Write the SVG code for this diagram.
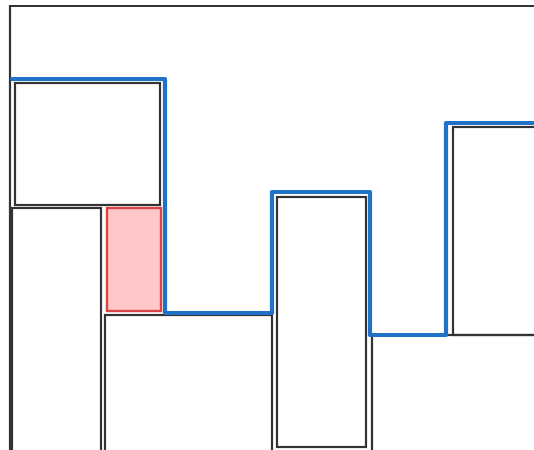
<svg xmlns="http://www.w3.org/2000/svg" width="534" height="450" viewBox="0 0 534 450">
<style>
.box{fill:none;stroke:#333;stroke-width:2.2}
.hl{fill:#ffc8c8;stroke:#d94545;stroke-width:2.4}
.sky{fill:none;stroke:#1f72c8;stroke-width:4.2;stroke-linejoin:round;stroke-linecap:round}
</style>
<rect width="534" height="450" fill="#fff"/>
<g id="frame"><path class="box" d="M10,452 V6 H540"/></g>
<g id="b1"><rect class="box" x="15" y="83" width="145" height="122"/></g>
<g id="b2"><rect class="box" x="12" y="208" width="89" height="250"/></g>
<g id="b3"><rect class="hl" x="107" y="208" width="54" height="103"/></g>
<g id="b4"><rect class="box" x="105" y="315" width="167" height="140"/></g>
<g id="b5"><rect class="box" x="277" y="197" width="89" height="250"/></g>
<g id="b6"><rect class="box" x="372" y="335" width="170" height="120"/></g>
<g id="b7"><rect class="box" x="453" y="127" width="90" height="208"/></g>
<g id="connectors">
<path class="sky" d="M12,79 H165 V313 H272 V192 H370 V335 H446 V123 H540"/>
</g>
</svg>
